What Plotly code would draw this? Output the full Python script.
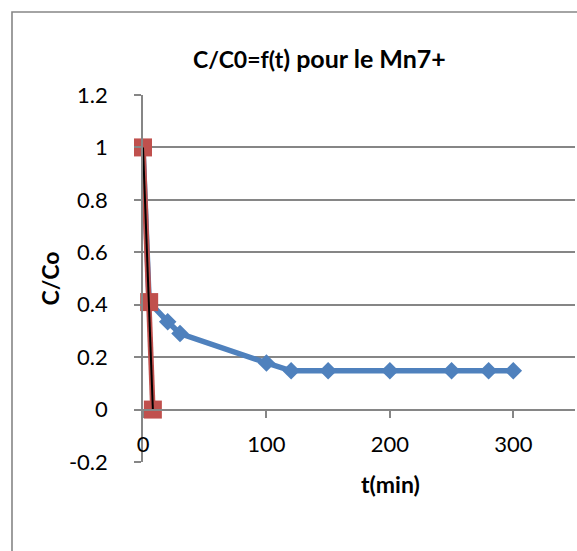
import plotly.graph_objects as go

# Mn7+ relative concentration over time
t_main = [0, 5, 20, 30, 100, 120, 150, 200, 250, 280, 300]
c_main = [1.0, 0.41, 0.335, 0.29, 0.178, 0.148, 0.148, 0.148, 0.148, 0.148, 0.148]

t_fast = [0, 5, 8]
c_fast = [1.0, 0.41, 0.0]

t_fit = [0, 8]
c_fit = [1.0, 0.0]

y_ticks = [-0.2, 0, 0.2, 0.4, 0.6, 0.8, 1, 1.2]
y_labels = ["-0.2", "0", "0.2", "0.4", "0.6", "0.8", "1", "1.2"]
x_ticks = [0, 100, 200, 300]

W, H = 577, 551
L, R, T, B = 143, 2, 95, 89
pw, ph = W - L - R, H - T - B

FONT = "Lato, Carlito, Calibri, sans-serif"
BLUE = "#4F81BD"
RED = "#C0504D"
GRID = "#868686"

fig = go.Figure()
fig.add_trace(go.Scatter(
    x=t_main, y=c_main, mode="lines+markers",
    line=dict(color=BLUE, width=5.5),
    marker=dict(symbol="diamond", size=13.5, color=BLUE),
    cliponaxis=False, showlegend=False))
fig.add_trace(go.Scatter(
    x=t_fast, y=c_fast, mode="lines+markers",
    line=dict(color=RED, width=5.5),
    marker=dict(symbol="square", size=18, color=RED),
    cliponaxis=False, showlegend=False))
fig.add_trace(go.Scatter(
    x=t_fit, y=c_fit, mode="lines",
    line=dict(color="black", width=2),
    cliponaxis=False, showlegend=False))

def px_x(p):
    return (p - L) / pw

def px_y(p):
    return (H - B - p) / ph

fig.update_layout(
    width=W, height=H,
    margin=dict(l=L, r=R, t=T, b=B),
    paper_bgcolor="white", plot_bgcolor="white",
    font=dict(family=FONT, color="black", size=22),
    xaxis=dict(
        range=[0, 350], tickvals=x_ticks, ticktext=[str(v) for v in x_ticks],
        showgrid=False, zeroline=False,
        showline=True, linecolor=GRID, linewidth=1.6,
        ticks="outside", ticklen=8, tickcolor=GRID, tickwidth=1.6,
        anchor="free", position=1 / 7,
        tickfont=dict(size=22, family=FONT),
        ticklabelstandoff=7,
    ),
    yaxis=dict(
        range=[-0.2, 1.2], tickvals=y_ticks, ticktext=y_labels,
        showgrid=True, gridcolor=GRID, gridwidth=1.6,
        zeroline=False,
        showline=True, linecolor=GRID, linewidth=1.6,
        ticks="outside", ticklen=7, tickcolor=GRID, tickwidth=1.6,
        tickfont=dict(size=22, family=FONT),
        ticklabelstandoff=22,
        title=dict(text="<b>C/Co</b>", font=dict(size=23, family=FONT), standoff=3),
    ),
    shapes=[dict(
        type="rect", xref="paper", yref="paper",
        x0=px_x(12), x1=px_x(W + 20), y0=px_y(H + 20), y1=px_y(12),
        line=dict(color=GRID, width=1.6), fillcolor="rgba(0,0,0,0)", layer="below")],
    annotations=[
        dict(text="<b><span style='font-size:23px'>C/C0=f(t</span>) pour le Mn7+</b>",
             xref="paper", yref="paper", x=px_x(319), y=px_y(58),
             xanchor="center", yanchor="middle", showarrow=False,
             font=dict(size=25, family=FONT)),
        dict(text="<b>t(min)</b>",
             xref="paper", yref="paper", x=px_x(390), y=px_y(484),
             xanchor="center", yanchor="middle", showarrow=False,
             font=dict(size=23, family=FONT)),
    ],
)

fig.write_html("out.html")
